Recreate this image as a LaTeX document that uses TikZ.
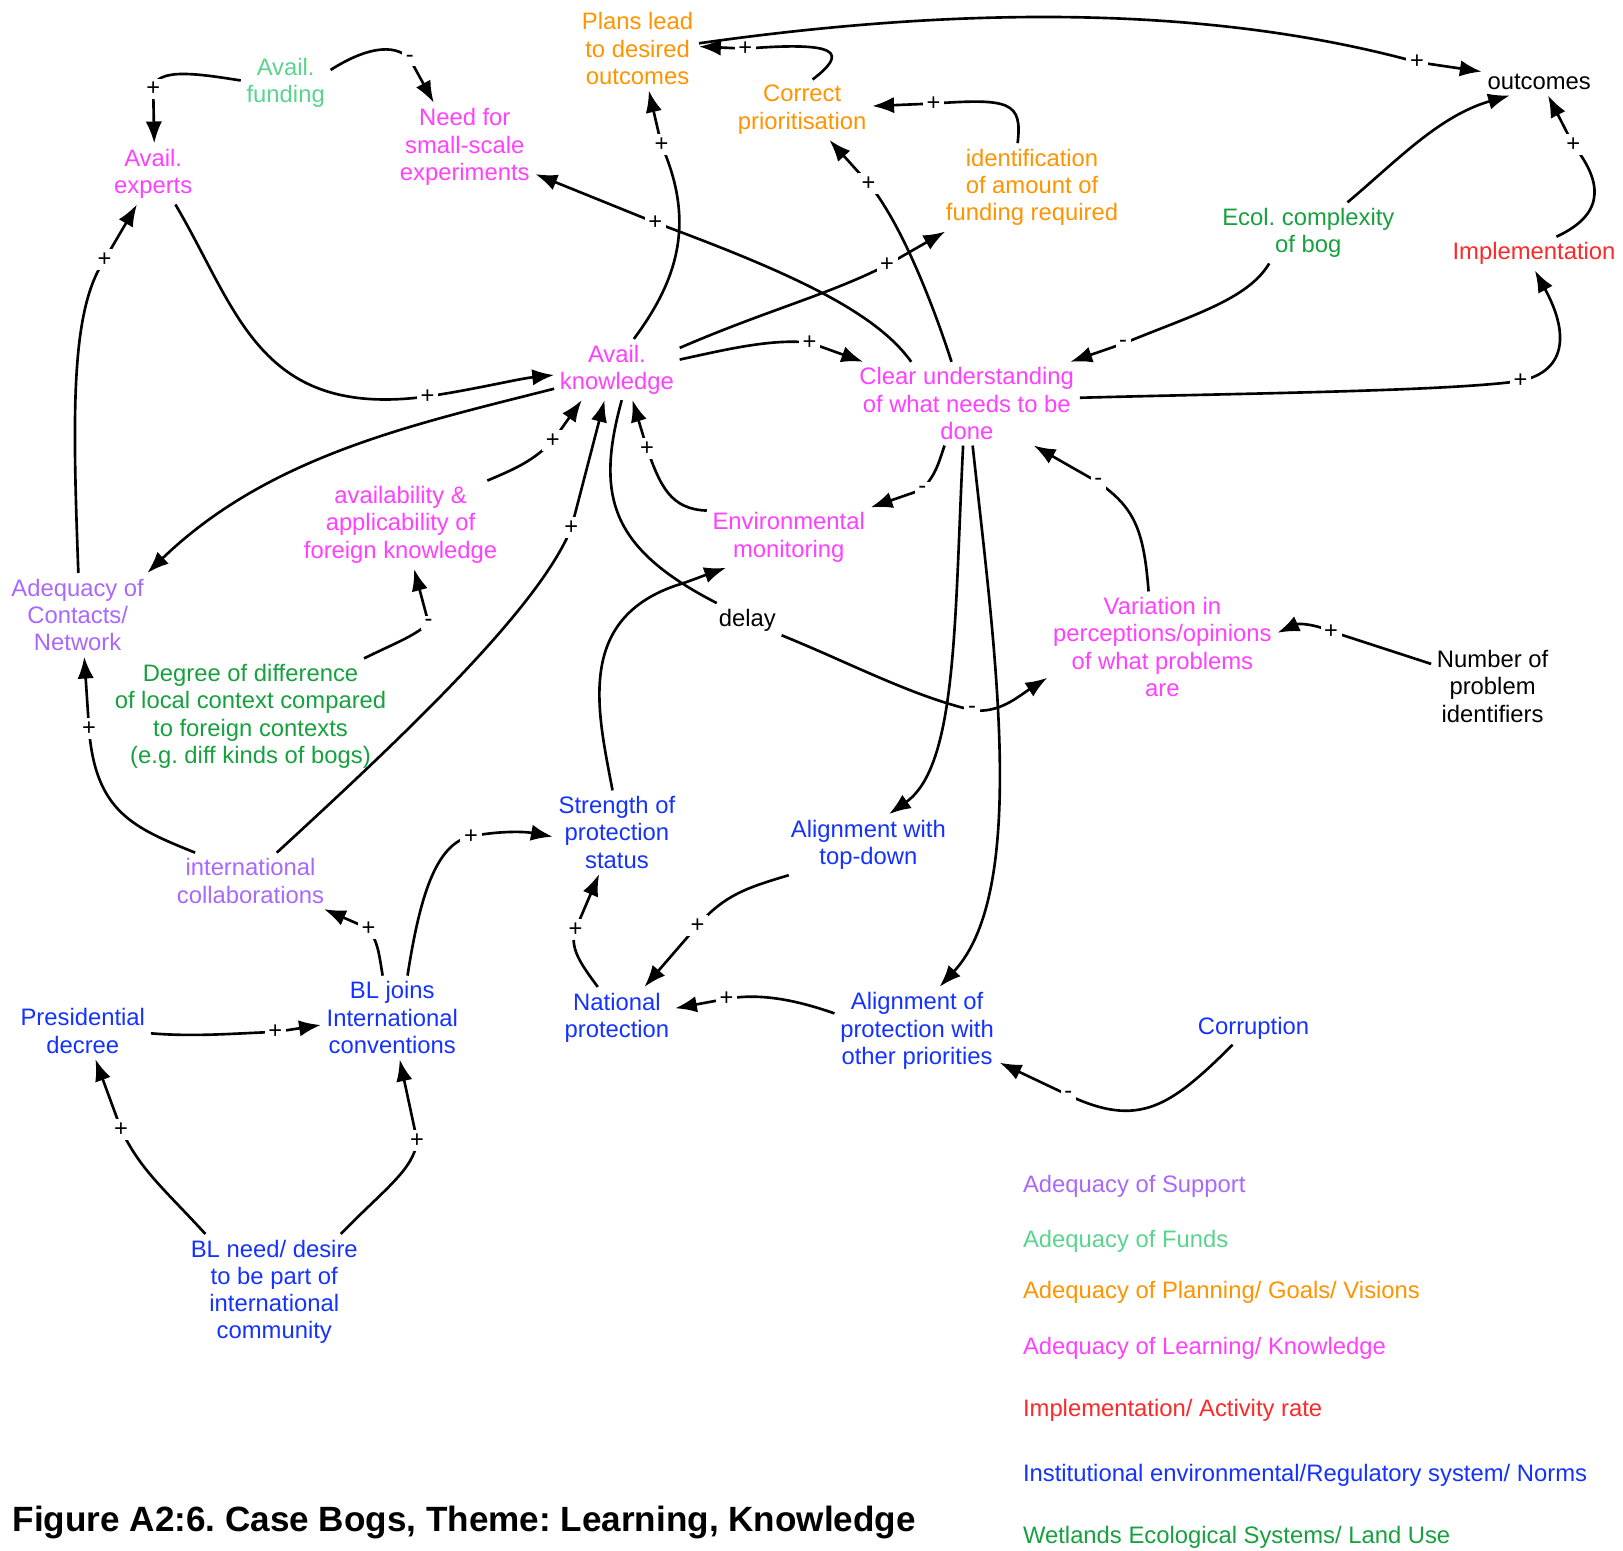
\documentclass[tikz,border=0pt]{standalone}
\usepackage{fontspec}
\setmainfont{Liberation Sans}
\usetikzlibrary{arrows.meta}
\definecolor{kmag}{RGB}{255,64,255}
\definecolor{korange}{RGB}{255,147,0}
\definecolor{kfund}{RGB}{90,212,140}
\definecolor{kpurple}{RGB}{168,104,255}
\definecolor{kgreen}{RGB}{22,160,62}
\definecolor{kred}{RGB}{255,40,40}
\definecolor{kblue}{RGB}{20,50,255}
\frenchspacing

\begin{document}
\begin{tikzpicture}[x=0.02cm,y=-0.02cm,
	var/.style={align=center,inner sep=3pt,font=\fontsize{13.1}{15}\selectfont},
	leg/.style={anchor=west,inner sep=0pt,font=\fontsize{13.1}{15}\selectfont},
	link/.style={line width=1.45pt,-{Latex[length=12pt,width=9pt]}},
	sgn/.style={fill=white,inner sep=2pt,font=\fontsize{13}{13}\selectfont}]
	\useasboundingbox (0,0) rectangle (1568,1498);
	% nodi
	\node[var,text=korange] (plans) at (616,47) {Plans lead\\to desired\\outcomes};
	\node[var,text=kfund] (avfund) at (276,80) {Avail.\\funding};
	\node[var,text=kmag] (needexp) at (449,142) {Need for\\small-scale\\experiments};
	\node[var,text=kmag] (avexp) at (148,168) {Avail.\\experts};
	\node[var,text=korange] (correct) at (775,106) {Correct\\prioritisation};
	\node[var,text=korange] (identfund) at (997,181) {identification\\of amount of\\funding required};
	\node[var] (outcomes) at (1487,79) {outcomes};
	\node[var,text=kgreen] (ecol) at (1264,225) {Ecol. complexity\\of bog};
	\node[var,text=kred] (impl) at (1482,245) {Implementation};
	\node[var,text=kmag] (avknow) at (596,357) {Avail.\\knowledge};
	\node[var,text=kmag] (clear) at (934,390) {Clear understanding\\of what needs to be\\done};
	\node[var,text=kmag] (foreign) at (387,507) {availability \&\\applicability of\\foreign knowledge};
	\node[var,text=kmag] (envmon) at (762,519) {Environmental\\monitoring};
	\node[var,text=kpurple] (adeq) at (75,594) {Adequacy of\\Contacts/\\Network};
	\node[var] (delay) at (722,599) {delay};
	\node[var,text=kmag] (variation) at (1123,625) {Variation in\\perceptions/opinions\\of what problems\\are};
	\node[var] (numprob) at (1442,663) {Number of\\problem\\identifiers};
	\node[var,text=kgreen] (degree) at (242,692) {Degree of difference\\of local context compared\\to foreign contexts\\(e.g. diff kinds of bogs)};
	\node[var,text=kblue] (strength) at (596,804) {Strength of\\protection\\status};
	\node[var,text=kblue] (alignTD) at (839,816) {Alignment with\\top-down};
	\node[var,text=kpurple] (intcollab) at (242,851) {international\\collaborations};
	\node[var,text=kblue] (bljoins) at (379,983) {BL joins\\International\\conventions};
	\node[var,text=kblue] (presdec) at (80,996) {Presidential\\decree};
	\node[var,text=kblue] (natprot) at (596,983) {National\\protection};
	\node[var,text=kblue] (alignOP) at (886,996) {Alignment of\\protection with\\other priorities};
	\node[var,text=kblue] (corruption) at (1211,993) {Corruption};
	\node[var,text=kblue] (blneed) at (265,1248) {BL need/ desire\\to be part of\\international\\community};
	% archi
	\draw[link] (avfund.177) .. controls (195,72) and (150,64) .. (148,86) node[sgn]{+} -- (avexp.88);
	\draw[link] (avfund.16) .. controls (350,48) and (380,40) .. (396,57) node[sgn]{-} -- (needexp.125);
	\draw[link] (avexp.-54) .. controls (230,300) and (250,405) .. (413,383) node[sgn]{+} .. controls (460,376) and (500,366) .. (avknow.185);
	\draw[link] (avknow.197) .. controls (400,410) and (260,440) .. (adeq.31);
	\draw[link] (foreign.27) .. controls (500,452) and (515,445) .. (534,426) node[sgn]{+} -- (avknow.221);
	\draw[link] (intcollab.47) .. controls (380,720) and (520,590) .. (552,510) node[sgn]{+} -- (avknow.248);
	\draw[line width=1.45pt] (avknow.-81) .. controls (575,480) and (590,530) .. (delay.151);
	\draw[link] (delay.-24) .. controls (820,640) and (880,672) .. (939,686) node[sgn]{-} .. controls (965,690) and (985,672) .. (variation.195);
	\draw[link] (envmon.162) .. controls (648,492) and (638,470) .. (625,433) node[sgn]{+} -- (avknow.297);
	\draw[link] (strength.96) .. controls (578,690) and (555,600) .. (652,566) .. controls (668,561) and (680,556) .. (envmon.206);
	\draw[link] (avknow.61) .. controls (655,270) and (672,215) .. (639,140) node[sgn]{+} -- (plans.285);
	\draw[link] (clear.143) .. controls (845,300) and (760,262) .. (633,215) node[sgn]{+} -- (needexp.339);
	\draw[link] (clear.110) .. controls (900,290) and (870,215) .. (839,177) node[sgn]{+} -- (correct.312);
	\draw[link] (avknow.19) .. controls (740,300) and (800,285) .. (857,256) node[sgn]{+} -- (identfund.207);
	\draw[link] (avknow.9) .. controls (700,338) and (745,327) .. (782,331) node[sgn]{+} -- (clear.158);
	\draw[link] (correct.71) .. controls (820,50) and (810,40) .. (720,47) node[sgn]{+} -- (plans.2);
	\draw[link] (identfund.108) .. controls (988,98) and (975,95) .. (902,100) node[sgn]{+} -- (correct.3);
	\draw[link] (plans.5) .. controls (900,10) and (1150,0) .. (1369,60) node[sgn]{+} -- (outcomes.170);
	\draw[link] (ecol.38) .. controls (1350,155) and (1390,112) .. (outcomes.205);
	\draw[link] (impl.37) .. controls (1555,205) and (1545,172) .. (1520,140) node[sgn]{+} -- (outcomes.303);
	\draw[link] (ecol.218) .. controls (1205,290) and (1150,305) .. (1085,332) node[sgn]{-} -- (clear.22);
	\draw[link] (clear.3) .. controls (1200,380) and (1400,378) .. (1469,368) node[sgn]{+} .. controls (1515,358) and (1515,320) .. (impl.273);
	\draw[link] (clear.242) .. controls (906,450) and (904,458) .. (891,473) node[sgn]{-} -- (envmon.20);
	\draw[link] (variation.104) .. controls (1105,510) and (1095,490) .. (1061,466) node[sgn]{-} -- (clear.328);
	\draw[link] (numprob.160) -- (1286,610) node[sgn]{+} .. controls (1270,603) and (1255,602) .. (variation.7);
	\draw[link] (clear.265) .. controls (922,600) and (925,740) .. (alignTD.56);
	\draw[link] (clear.278) .. controls (960,620) and (995,860) .. (alignOP.63);
	\draw[link] (alignTD.201) .. controls (720,858) and (700,865) .. (674,894) node[sgn]{+} -- (natprot.48);
	\draw[link] (natprot.122) .. controls (560,930) and (550,915) .. (556,898) node[sgn]{+} -- (strength.247);
	\draw[link] (alignOP.168) .. controls (780,970) and (740,958) .. (702,965) node[sgn]{+} -- (natprot.9);
	\draw[link] (corruption.219) .. controls (1130,1070) and (1100,1090) .. (1032,1058) node[sgn]{-} -- (alignOP.339);
	\draw[link] (bljoins.103) .. controls (366,920) and (365,910) .. (356,897) node[sgn]{+} -- (intcollab.339);
	\draw[link] (bljoins.70) .. controls (405,870) and (420,815) .. (455,808) node[sgn]{+} .. controls (480,803) and (505,803) .. (strength.184);
	\draw[link] (presdec.-2) .. controls (190,1002) and (230,998) .. (266,997) node[sgn]{+} -- (bljoins.186);
	\draw[link] (blneed.140) .. controls (160,1150) and (135,1130) .. (117,1091) node[sgn]{+} -- (presdec.294);
	\draw[link] (blneed.41) .. controls (370,1150) and (400,1130) .. (403,1102) node[sgn]{+} -- (bljoins.280);
	\draw[link] (intcollab.153) .. controls (130,800) and (92,785) .. (86,704) node[sgn]{+} -- (adeq.279);
	\draw[link] (adeq.89) .. controls (70,400) and (68,300) .. (101,251) node[sgn]{+} -- (avexp.242);
	\draw[link] (degree.27) .. controls (380,622) and (400,615) .. (414,602) node[sgn]{-} -- (foreign.287);
	% legenda
	\node[leg,text=kpurple] (legsupport) at (988,1146) {Adequacy of Support};
	\node[leg,text=kfund] (legfunds) at (988,1199) {Adequacy of Funds};
	\node[leg,text=korange] (legplan) at (988,1249) {Adequacy of Planning/ Goals/ Visions};
	\node[leg,text=kmag] (leglearn) at (988,1303) {Adequacy of Learning/ Knowledge};
	\node[leg,text=kred] (legimpl) at (988,1363) {Implementation/ Activity rate};
	\node[leg,text=kblue] (leginst) at (988,1425) {Institutional environmental/Regulatory system/ Norms};
	\node[leg,text=kgreen] (legwet) at (988,1485) {Wetlands Ecological Systems/ Land Use};
	% titolo
	\node[anchor=west,inner sep=0pt,font=\bfseries\fontsize{19.3}{22}\selectfont] (title) at (12,1471) {Figure A2:6. Case Bogs, Theme: Learning, Knowledge};
\end{tikzpicture}
\end{document}
